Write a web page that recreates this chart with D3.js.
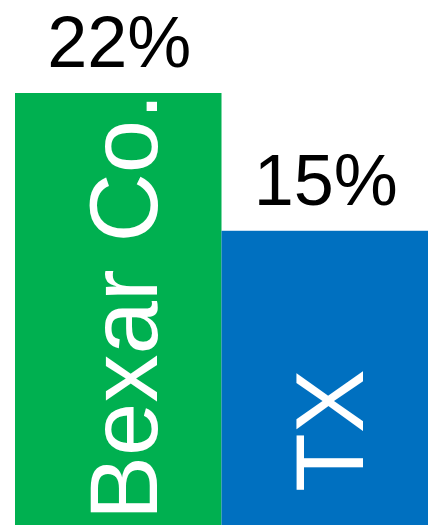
<!DOCTYPE html>
<html><head><meta charset="utf-8">
<script src="https://cdn.jsdelivr.net/npm/d3@7"></script>
<style>html,body{margin:0;padding:0;background:#fff;overflow:hidden}</style>
</head><body>
<svg id="c" width="437" height="525"></svg>
<script>
const categories = ["Bexar Co.", "TX"];
const values = [22, 15];
const valueLabels = ["22%", "15%"];
const colors = ["#00B050", "#0070C0"];

const svg = d3.select("#c");
const x = d3.scaleBand().domain(categories).range([15, 428]).padding(0);
const y = d3.scaleLinear().domain([0, 22]).range([526, 93]);
const font = "'Liberation Sans', Arial, sans-serif";

const data = categories.map((c, i) => ({c, v: values[i], lab: valueLabels[i], col: colors[i]}));

svg.selectAll("rect.bar").data(data).enter().append("rect")
  .attr("class", "bar")
  .attr("x", d => x(d.c))
  .attr("width", x.bandwidth())
  .attr("y", d => y(d.v))
  .attr("height", d => y(0) - y(d.v))
  .attr("fill", d => d.col);

svg.selectAll("text.val").data(data).enter().append("text")
  .attr("class", "val")
  .attr("x", d => x(d.c) + x.bandwidth() / 2 + 1)
  .attr("y", d => y(d.v) - 26)
  .attr("text-anchor", "middle")
  .attr("font-family", font)
  .attr("font-size", 72)
  .attr("fill", "#000")
  .text(d => d.lab);

const startOffsets = [6, 34];
svg.selectAll("text.cat").data(data).enter().append("text")
  .attr("class", "cat")
  .attr("transform", (d, i) => `translate(${x(d.c) + x.bandwidth() / 2 + 38.5},${y(0) - startOffsets[i]}) rotate(-90)`)
  .attr("text-anchor", "start")
  .attr("font-family", font)
  .attr("font-size", 96)
  .attr("fill", "#fff")
  .text(d => d.c);
</script>
</body></html>
